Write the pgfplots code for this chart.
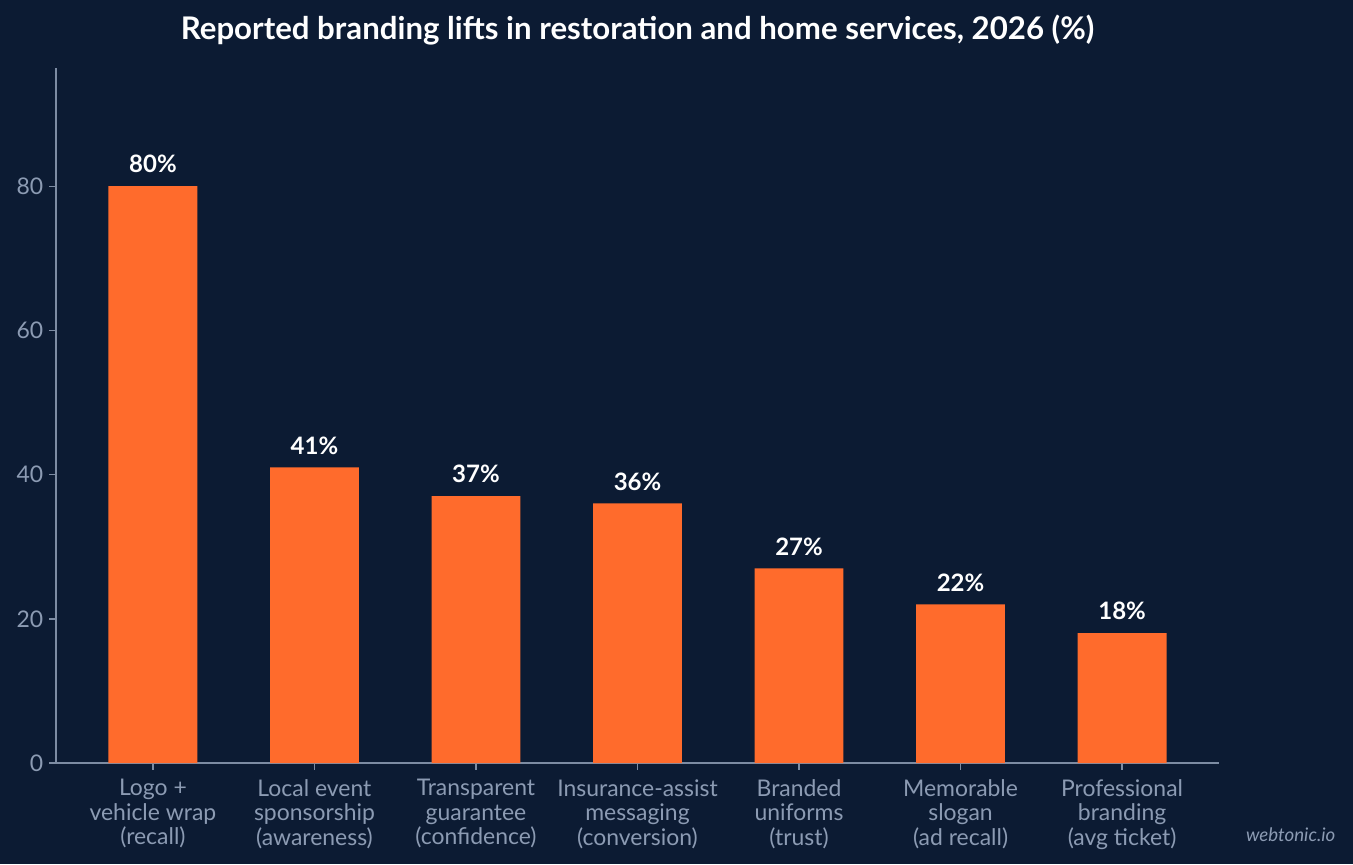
\documentclass[border=0pt]{standalone}
\usepackage{fontspec}
\setmainfont{Lato}
\usepackage{pgfplots}
\pgfplotsset{compat=1.18}
\definecolor{bg}{HTML}{0C1B33}
\definecolor{barc}{HTML}{FF6B2C}
\definecolor{axisc}{HTML}{7D8CA3}
\definecolor{tickc}{HTML}{8C9BB3}
\begin{document}
\begin{tikzpicture}
\fill[bg] (0pt,0pt) rectangle (1014.75pt,648pt);
\begin{axis}[
  at={(42pt,75.75pt)}, anchor=south west,
  width=872.25pt, height=521.25pt, scale only axis,
  xmin=-0.6, xmax=6.6, ymin=0, ymax=96.4,
  axis x line*=bottom, axis y line*=left,
  axis line style={axisc, line width=1.1pt, -},
  ytick={0,20,40,60,80},
  xtick={0,...,6},
  xticklabels={{Logo +\\vehicle wrap\\(recall)},{Local event\\sponsorship\\(awareness)},{Transparent\\guarantee\\(confidence)},{Insurance-assist\\messaging\\(conversion)},{Branded\\uniforms\\(trust)},{Memorable\\slogan\\(ad recall)},{Professional\\branding\\(avg ticket)}},
  xticklabel style={align=center, font=\fontsize{17.2}{18.4}\selectfont, text=tickc, yshift=-3.8pt},
  yticklabel style={font=\fontsize{17.2}{18}\selectfont, text=tickc, xshift=-1pt},
  /pgf/number format/assume math mode=true,
  tick style={axisc, line width=1.1pt},
  tick align=outside, major tick length=5pt,
  ybar, bar width=0.55,
  nodes near coords={\pgfmathprintnumber{\pgfplotspointmeta}\%},
  nodes near coords style={font=\bfseries\fontsize{18}{21}\selectfont, text=white, anchor=base, yshift=10pt},
  clip=false,
]
\addplot[fill=barc, draw=none] coordinates {(0,80) (1,41) (2,37) (3,36) (4,27) (5,22) (6,18)};
\end{axis}
\node[anchor=base, font=\bfseries\fontsize{23.4}{28}\selectfont, text=white] at (478.1pt,618.5pt) {Reported branding lifts in restoration and home services, 2026 (\%)};
\node[anchor=base east, font=\itshape\fontsize{14}{17}\selectfont, text=tickc] at (1005pt,16.5pt) {webtonic.io};
\end{tikzpicture}
\end{document}
